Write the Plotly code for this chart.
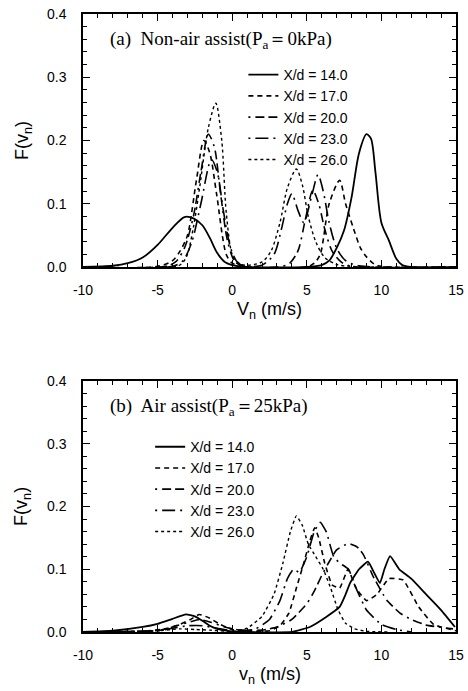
import plotly.graph_objects as go

# ---------------- data: panel (a) Non-air assist ----------------
labels = ["X/d = 14.0", "X/d = 17.0", "X/d = 20.0", "X/d = 23.0", "X/d = 26.0"]

a14_v = [-10, -8, -7, -6, -5, -4, -3.2, -2.6, -2, -1.5, -1, -0.5, 0, 1, 5, 6, 6.5, 7, 7.5, 8, 8.5, 9, 9.3, 9.6, 10, 10.5, 11, 11.4, 12, 15]
a14_F = [0, 0.002, 0.006, 0.015, 0.035, 0.062, 0.079, 0.077, 0.066, 0.046, 0.022, 0.008, 0.003, 0, 0, 0.003, 0.01, 0.03, 0.058, 0.11, 0.18, 0.21, 0.203, 0.15, 0.07, 0.042, 0.013, 0.003, 0, 0]

a17_v = [-10, -5, -4, -3.5, -3, -2.4, -1.9, -1.5, -1.05, -0.4, 0, 0.5, 1, 5, 5.5, 5.9, 6.5, 7.2, 7.6, 8.1, 8.6, 9, 9.5, 10, 15]
a17_F = [0, 0.001, 0.01, 0.025, 0.05, 0.137, 0.2, 0.18, 0.116, 0.02, 0.006, 0.002, 0, 0, 0.006, 0.02, 0.1, 0.137, 0.1, 0.063, 0.03, 0.016, 0.005, 0.001, 0]

a20_v = [-10, -4.5, -3.8, -3.2, -2.6, -2.1, -1.6, -1.2, -0.8, -0.3, 0.2, 1, 3, 3.8, 4.4, 4.9, 5.4, 5.8, 6.2, 6.7, 7.3, 8, 15]
a20_F = [0, 0.001, 0.008, 0.03, 0.08, 0.15, 0.21, 0.19, 0.12, 0.04, 0.008, 0, 0, 0.005, 0.025, 0.075, 0.121, 0.1, 0.06, 0.025, 0.008, 0.001, 0]

a23_v = [-10, -4, -3.3, -2.7, -2.1, -1.4, -1.0, -0.6, -0.1, 0.4, 1, 2, 2.8, 3.3, 3.7, 4.0, 4.4, 4.8, 5.3, 5.75, 6.1, 6.5, 7, 7.6, 8.5, 15]
a23_F = [0, 0.001, 0.01, 0.04, 0.1, 0.17, 0.15, 0.09, 0.03, 0.006, 0.001, 0.003, 0.02, 0.06, 0.1, 0.116, 0.09, 0.07, 0.11, 0.146, 0.12, 0.07, 0.03, 0.01, 0.002, 0]

a26_v = [-10, -3.6, -3.07, -2.6, -2.18, -1.6, -1.1, -0.7, -0.39, 0.06, 0.6, 1.2, 2, 2.6, 3.2, 3.7, 4.3, 4.7, 5.1, 5.6, 6.2, 7, 8, 15]
a26_F = [0, 0.002, 0.016, 0.063, 0.126, 0.22, 0.259, 0.2, 0.084, 0.016, 0.004, 0.003, 0.008, 0.025, 0.07, 0.125, 0.155, 0.13, 0.08, 0.04, 0.015, 0.004, 0.001, 0]

# ---------------- data: panel (b) Air assist ----------------
b14_v = [-10, -8, -6, -5, -4, -3.1, -2.5, -2, -1.5, -1, 0, 1, 4, 5.2, 6.3, 7.2, 7.6, 7.9, 8.5, 9.1, 9.5, 9.9, 10.2, 10.58, 11.2, 12, 13, 14, 14.93]
b14_F = [0, 0.002, 0.008, 0.013, 0.021, 0.028, 0.025, 0.018, 0.01, 0.005, 0.001, 0, 0, 0.008, 0.024, 0.04, 0.06, 0.078, 0.1, 0.112, 0.095, 0.078, 0.1, 0.121, 0.1, 0.085, 0.06, 0.035, 0.008]

b17_v = [-10, -6, -4.5, -3.5, -2.8, -2.2, -1.5, -0.8, 0, 1, 2.5, 3.2, 3.8, 4.3, 4.8, 5.2, 5.53, 5.8, 6.2, 6.7, 7.2, 7.76, 8.3, 9, 9.7, 10.5, 11.45, 12.5, 13.5, 15]
b17_F = [0, 0.001, 0.005, 0.012, 0.02, 0.028, 0.022, 0.012, 0.004, 0.001, 0.002, 0.01, 0.03, 0.07, 0.11, 0.145, 0.166, 0.15, 0.11, 0.075, 0.07, 0.1, 0.07, 0.05, 0.06, 0.085, 0.083, 0.04, 0.012, 0.002]

b20_v = [-10, -5, -4, -3, -2.2, -1.5, -0.5, 0.5, 2, 3, 4, 5, 5.5, 6, 6.5, 7, 7.78, 8.4, 8.8, 9.46, 10.35, 11.25, 12, 13, 14.8]
b20_F = [0, 0.002, 0.008, 0.015, 0.02, 0.016, 0.008, 0.003, 0.003, 0.008, 0.02, 0.045, 0.065, 0.09, 0.112, 0.131, 0.141, 0.135, 0.123, 0.088, 0.051, 0.03, 0.02, 0.011, 0.005]

b23_v = [-10, -5, -4, -3, -2, -1, 0, 1.5, 2.5, 3.2, 3.7, 4.1, 4.5, 5.0, 5.5, 5.9, 6.3, 6.8, 7.2, 7.8, 8.3, 9, 10, 11, 12]
b23_F = [0, 0.002, 0.006, 0.01, 0.01, 0.006, 0.002, 0.004, 0.02, 0.05, 0.085, 0.1, 0.095, 0.12, 0.16, 0.175, 0.16, 0.12, 0.11, 0.1, 0.07, 0.035, 0.012, 0.004, 0]

b26_v = [-10, -5, -3.5, -2.5, -1.5, 0, 1, 2, 2.8, 3.4, 3.9, 4.3, 4.7, 5.1, 5.6, 6.1, 6.6, 7.1, 7.6, 8.2, 9, 10.5]
b26_F = [0, 0.002, 0.005, 0.004, 0.003, 0.001, 0.006, 0.025, 0.06, 0.11, 0.16, 0.185, 0.17, 0.14, 0.12, 0.1, 0.07, 0.035, 0.014, 0.005, 0.001, 0]

# ---------------- styles ----------------
dashes = ["solid", "5px,4px", "2px,5px,9px,4px,9px,5px", "2px,5px,13px,5px", "3px,3px"]
widths = [1.8, 1.6, 1.6, 1.6, 1.4]

fig = go.Figure()

panel_a = [(a14_v, a14_F), (a17_v, a17_F), (a20_v, a20_F), (a23_v, a23_F), (a26_v, a26_F)]
panel_b = [(b14_v, b14_F), (b17_v, b17_F), (b20_v, b20_F), (b23_v, b23_F), (b26_v, b26_F)]

for i, (v, F) in enumerate(panel_a):
    fig.add_trace(go.Scatter(x=v, y=F, mode="lines", name=labels[i],
                             line=dict(color="black", width=widths[i], dash=dashes[i],
                                       shape="spline", smoothing=0.8),
                             xaxis="x", yaxis="y", legend="legend"))
for i, (v, F) in enumerate(panel_b):
    fig.add_trace(go.Scatter(x=v, y=F, mode="lines", name=labels[i],
                             line=dict(color="black", width=widths[i], dash=dashes[i],
                                       shape="spline", smoothing=0.4),
                             xaxis="x2", yaxis="y2", legend="legend2"))

tickfont = dict(family="Liberation Sans, Arial", size=14, color="black")

def xaxis(anchor):
    return dict(domain=[0, 1], anchor=anchor, range=[-10, 15], tickmode="array",
                tickvals=[-10, -5, 0, 5, 10, 15], ticktext=["-10", "-5", "0", "5", "10", "15"],
                ticks="inside", ticklen=7, tickwidth=1.2, tickcolor="black",
                minor=dict(dtick=1, ticks="inside", ticklen=4, tickwidth=1, tickcolor="black"),
                showline=True, linecolor="black", linewidth=1.5, mirror="allticks",
                showgrid=False, zeroline=False, tickfont=tickfont, ticklabelstandoff=9,
                automargin=False)

def yaxis(anchor, dom):
    return dict(domain=dom, anchor=anchor, range=[0, 0.4], tickmode="array",
                tickvals=[0, 0.1, 0.2, 0.3, 0.4], ticktext=["0.0", "0.1", "0.2", "0.3", "0.4"],
                ticks="inside", ticklen=7, tickwidth=1.2, tickcolor="black",
                minor=dict(dtick=0.02, ticks="inside", ticklen=4, tickwidth=1, tickcolor="black"),
                showline=True, linecolor="black", linewidth=1.5, mirror="allticks",
                showgrid=False, zeroline=False, tickfont=tickfont, ticklabelstandoff=12,
                automargin=False)

legfont = dict(family="Liberation Sans, Arial", size=14, color="black")
serif = dict(family="Liberation Serif, Times New Roman", size=19, color="black")
titlefont = dict(family="Liberation Sans, Arial", size=18, color="black")

fig.update_layout(
    width=468, height=691,
    margin=dict(l=83, r=12, t=14, b=59, autoexpand=False),
    paper_bgcolor="white", plot_bgcolor="white",
    showlegend=True,
    xaxis=xaxis("y"), yaxis=yaxis("x", [0.5906, 1.0]),
    xaxis2=xaxis("y2"), yaxis2=yaxis("x2", [0.0, 0.4061]),
    legend=dict(x=0.43, y=0.927, xanchor="left", yanchor="top", bgcolor="rgba(0,0,0,0)",
                font=legfont, tracegroupgap=0, itemwidth=30),
    legend2=dict(x=0.18, y=0.325, xanchor="left", yanchor="top", bgcolor="rgba(0,0,0,0)",
                 font=legfont, tracegroupgap=0, itemwidth=30),
    annotations=[
        dict(text="(a)  Non-air assist(P<sub>a</sub>＝0kPa)", xref="paper", yref="paper",
             x=0.067, y=0.958, xanchor="left", yanchor="middle", showarrow=False, font=serif),
        dict(text="(b)  Air assist(P<sub>a</sub>＝25kPa)", xref="paper", yref="paper",
             x=0.067, y=0.364, xanchor="left", yanchor="middle", showarrow=False, font=serif),
        dict(text="V<sub>n</sub> (m/s)", xref="paper", yref="paper", x=0.5, y=0.521,
             xanchor="center", yanchor="middle", showarrow=False, font=titlefont),
        dict(text="v<sub>n</sub> (m/s)", xref="paper", yref="paper", x=0.5, y=-0.07,
             xanchor="center", yanchor="middle", showarrow=False, font=titlefont),
        dict(text="F(v<sub>n</sub>)", xref="paper", yref="paper", x=-0.161, y=0.796,
             xanchor="center", yanchor="middle", showarrow=False, font=titlefont, textangle=-90),
        dict(text="F(v<sub>n</sub>)", xref="paper", yref="paper", x=-0.161, y=0.204,
             xanchor="center", yanchor="middle", showarrow=False, font=titlefont, textangle=-90),
    ],
)

fig.write_html("out.html", config={"displayModeBar": False},
               post_script="document.body.style.margin='0px';document.body.style.overflow='hidden';")
